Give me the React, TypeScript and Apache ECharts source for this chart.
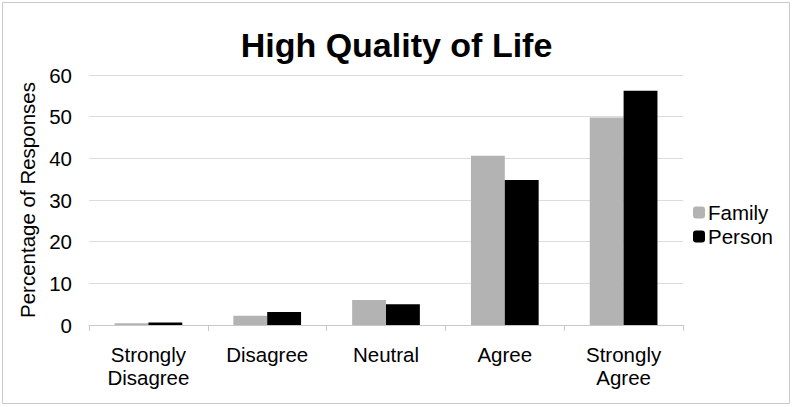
import React, { useEffect, useRef } from "react";
import * as echarts from "echarts";

const categories = ["Strongly\nDisagree", "Disagree", "Neutral", "Agree", "Strongly\nAgree"];
const familyValues = [0.4, 2.2, 6.0, 40.6, 49.8];
const personValues = [0.6, 3.1, 5.0, 34.8, 56.2];
const yTicks = { min: 0, max: 60, interval: 10 };

export default function App() {
  const ref = useRef<HTMLDivElement>(null);
  useEffect(() => {
    document.body.style.margin = "0";
    const chart = echarts.init(ref.current!, null, { renderer: "svg" });
    const font = "'Liberation Sans', Arial, sans-serif";
    chart.setOption({
      animation: false,
      backgroundColor: "#ffffff",
      textStyle: { fontFamily: font },
      title: {
        text: "High Quality of Life",
        left: "center",
        top: 23,
        textStyle: { fontFamily: font, fontSize: 34, fontWeight: "bold", color: "#000" },
      },
      graphic: [
        {
          type: "rect",
          shape: { x: 2.5, y: 2.5, width: 787, height: 401 },
          style: { fill: "none", stroke: "#c8c8c8", lineWidth: 1 },
          silent: true,
        },
      ],
      legend: {
        orient: "vertical",
        left: 688,
        top: 197,
        itemWidth: 12,
        itemHeight: 12,
        itemGap: 3,
        textStyle: { fontFamily: font, fontSize: 20.5, color: "#000", padding: [0, 0, 0, -2] },
        data: ["Family", "Person"],
      },
      grid: { left: 89, right: 110, top: 75, bottom: 82, containLabel: false },
      xAxis: {
        type: "category",
        data: categories,
        axisLine: { lineStyle: { color: "#c8c8c8" } },
        axisTick: { show: true, length: 6, lineStyle: { color: "#c8c8c8" } },
        axisLabel: { fontFamily: font, fontSize: 20.5, color: "#000", margin: 18, lineHeight: 23 },
      },
      yAxis: {
        type: "value",
        min: yTicks.min,
        max: yTicks.max,
        interval: yTicks.interval,
        name: "Percentage of Responses",
        nameLocation: "middle",
        nameGap: 47,
        nameTextStyle: { fontFamily: font, fontSize: 20.5, color: "#000" },
        axisLine: { show: false },
        axisTick: { show: false },
        axisLabel: { fontFamily: font, fontSize: 20.5, color: "#000", margin: 17 },
        splitLine: { lineStyle: { color: "#dcdcdc" } },
      },
      series: [
        {
          name: "Family",
          type: "bar",
          data: familyValues,
          barCategoryGap: "43%",
          barGap: "0%",
          itemStyle: { color: "#b3b3b3" },
        },
        {
          name: "Person",
          type: "bar",
          data: personValues,
          barCategoryGap: "43%",
          barGap: "0%",
          itemStyle: { color: "#000000" },
        },
      ],
    });
    return () => chart.dispose();
  }, []);
  return <div ref={ref} style={{ width: 793, height: 407 }} />;
}
